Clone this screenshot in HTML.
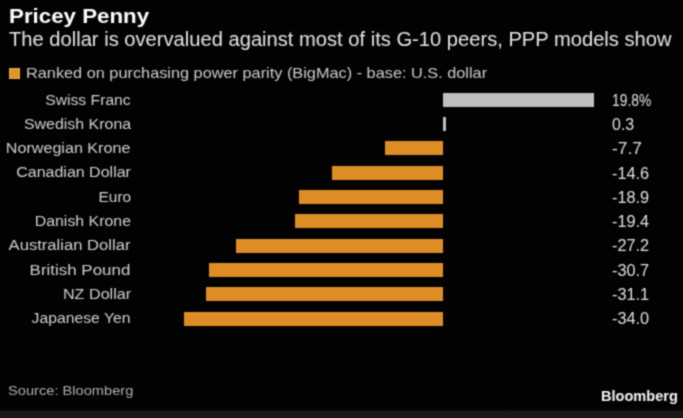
<!DOCTYPE html>
<html><head><meta charset="utf-8"><style>
html,body{margin:0;padding:0;}
body{width:683px;height:418px;background:#020203;position:relative;overflow:hidden;font-family:"Liberation Sans",sans-serif;}
.t{position:absolute;white-space:nowrap;}
#w{position:absolute;left:0;top:0;width:683px;height:418px;filter:url(#bl);}
</style></head><body><svg width="10" height="10" style="position:absolute;left:-20px;top:-20px"><defs><filter id="bl" x="0" y="0" width="100%" height="100%" color-interpolation-filters="sRGB"><feConvolveMatrix order="3" kernelMatrix="1 3 1 3 9 3 1 3 1" divisor="25" edgeMode="duplicate"/></filter></defs></svg><div id="w">
<div class="t" style="left:8.60px;top:7.14px;font-size:19.8px;line-height:19.8px;font-weight:bold;color:#ffffff;transform:scaleX(1.1278);transform-origin:0 0;">Pricey Penny</div>
<div class="t" style="left:9.20px;top:29.99px;font-size:19.5px;line-height:19.5px;font-weight:normal;color:#e6e6e6;transform:scaleX(1.0331);transform-origin:0 0;">The dollar is overvalued against most of its G-10 peers, PPP models show</div>
<div style="position:absolute;left:9px;top:68px;width:9px;height:9px;border:1px solid #e6aa66;background:#e39425"></div>
<div class="t" style="left:25.70px;top:66.33px;font-size:14.5px;line-height:14.5px;font-weight:normal;color:#cccccc;transform:scaleX(1.1240);transform-origin:0 0;">Ranked on purchasing power parity (BigMac) - base: U.S. dollar</div>
<div style="position:absolute;left:443.20px;top:92.90px;width:150.88px;height:14.0px;background:#bfbfbf"></div>
<div class="t" style="right:552.20px;top:91.53px;font-size:15.2px;line-height:15.2px;font-weight:normal;color:#d0d0d0;transform:scaleX(1.0336);transform-origin:100% 0;">Swiss Franc</div>
<div class="t" style="left:612.00px;top:92.66px;font-size:16.0px;line-height:16.0px;font-weight:normal;color:#e0e0e0;transform:scaleX(0.8645);transform-origin:0 0;">19.8%</div>
<div style="position:absolute;left:443.20px;top:117.19px;width:2.40px;height:14.0px;background:#bfbfbf"></div>
<div class="t" style="right:552.20px;top:115.82px;font-size:15.2px;line-height:15.2px;font-weight:normal;color:#d0d0d0;transform:scaleX(1.0497);transform-origin:100% 0;">Swedish Krona</div>
<div class="t" style="left:612.00px;top:116.95px;font-size:16.0px;line-height:16.0px;font-weight:normal;color:#e0e0e0;transform:scaleX(0.9975);transform-origin:0 0;">0.3</div>
<div style="position:absolute;left:384.53px;top:141.48px;width:58.67px;height:14.0px;background:#de8d25"></div>
<div class="t" style="right:552.20px;top:140.11px;font-size:15.2px;line-height:15.2px;font-weight:normal;color:#d0d0d0;transform:scaleX(1.0611);transform-origin:100% 0;">Norwegian Krone</div>
<div class="t" style="left:612.00px;top:141.24px;font-size:16.0px;line-height:16.0px;font-weight:normal;color:#e0e0e0;transform:scaleX(1.0830);transform-origin:0 0;">-7.7</div>
<div style="position:absolute;left:331.95px;top:165.77px;width:111.25px;height:14.0px;background:#de8d25"></div>
<div class="t" style="right:552.20px;top:164.40px;font-size:15.2px;line-height:15.2px;font-weight:normal;color:#d0d0d0;transform:scaleX(1.0535);transform-origin:100% 0;">Canadian Dollar</div>
<div class="t" style="left:612.00px;top:165.53px;font-size:16.0px;line-height:16.0px;font-weight:normal;color:#e0e0e0;transform:scaleX(1.0165);transform-origin:0 0;">-14.6</div>
<div style="position:absolute;left:299.18px;top:190.06px;width:144.02px;height:14.0px;background:#de8d25"></div>
<div class="t" style="right:552.20px;top:188.69px;font-size:15.2px;line-height:15.2px;font-weight:normal;color:#d0d0d0;transform:scaleX(1.0127);transform-origin:100% 0;">Euro</div>
<div class="t" style="left:612.00px;top:189.82px;font-size:16.0px;line-height:16.0px;font-weight:normal;color:#e0e0e0;transform:scaleX(1.0165);transform-origin:0 0;">-18.9</div>
<div style="position:absolute;left:295.37px;top:214.35px;width:147.83px;height:14.0px;background:#de8d25"></div>
<div class="t" style="right:552.20px;top:212.98px;font-size:15.2px;line-height:15.2px;font-weight:normal;color:#d0d0d0;transform:scaleX(1.0468);transform-origin:100% 0;">Danish Krone</div>
<div class="t" style="left:612.00px;top:214.11px;font-size:16.0px;line-height:16.0px;font-weight:normal;color:#e0e0e0;transform:scaleX(1.0165);transform-origin:0 0;">-19.4</div>
<div style="position:absolute;left:235.94px;top:238.64px;width:207.26px;height:14.0px;background:#de8d25"></div>
<div class="t" style="right:552.20px;top:237.27px;font-size:15.2px;line-height:15.2px;font-weight:normal;color:#d0d0d0;transform:scaleX(1.0933);transform-origin:100% 0;">Australian Dollar</div>
<div class="t" style="left:612.00px;top:238.40px;font-size:16.0px;line-height:16.0px;font-weight:normal;color:#e0e0e0;transform:scaleX(1.0165);transform-origin:0 0;">-27.2</div>
<div style="position:absolute;left:209.27px;top:262.93px;width:233.93px;height:14.0px;background:#de8d25"></div>
<div class="t" style="right:552.20px;top:261.56px;font-size:15.2px;line-height:15.2px;font-weight:normal;color:#d0d0d0;transform:scaleX(1.1151);transform-origin:100% 0;">British Pound</div>
<div class="t" style="left:612.00px;top:262.69px;font-size:16.0px;line-height:16.0px;font-weight:normal;color:#e0e0e0;transform:scaleX(1.0165);transform-origin:0 0;">-30.7</div>
<div style="position:absolute;left:206.22px;top:287.22px;width:236.98px;height:14.0px;background:#de8d25"></div>
<div class="t" style="right:552.20px;top:285.85px;font-size:15.2px;line-height:15.2px;font-weight:normal;color:#d0d0d0;transform:scaleX(1.0629);transform-origin:100% 0;">NZ Dollar</div>
<div class="t" style="left:612.00px;top:286.98px;font-size:16.0px;line-height:16.0px;font-weight:normal;color:#e0e0e0;transform:scaleX(1.0165);transform-origin:0 0;">-31.1</div>
<div style="position:absolute;left:184.12px;top:311.51px;width:259.08px;height:14.0px;background:#de8d25"></div>
<div class="t" style="right:552.20px;top:310.14px;font-size:15.2px;line-height:15.2px;font-weight:normal;color:#d0d0d0;transform:scaleX(1.0355);transform-origin:100% 0;">Japanese Yen</div>
<div class="t" style="left:612.00px;top:311.27px;font-size:16.0px;line-height:16.0px;font-weight:normal;color:#e0e0e0;transform:scaleX(1.0165);transform-origin:0 0;">-34.0</div>
<div class="t" style="left:7.80px;top:384.00px;font-size:13.7px;line-height:13.7px;font-weight:normal;color:#b0b0b0;transform:scaleX(1.0700);transform-origin:0 0;">Source: Bloomberg</div>
<div class="t" style="left:600.60px;top:389.35px;font-size:14.0px;line-height:14.0px;font-weight:bold;color:#f6f6f6;transform:scaleX(1.0400);transform-origin:0 0;">Bloomberg</div>
<div style="position:absolute;left:0;top:410px;width:683px;height:8px;background:linear-gradient(#0e0e10 0,#0e0e10 1px,#19191c 1px,#17181b 100%)"></div>
</div></body></html>
